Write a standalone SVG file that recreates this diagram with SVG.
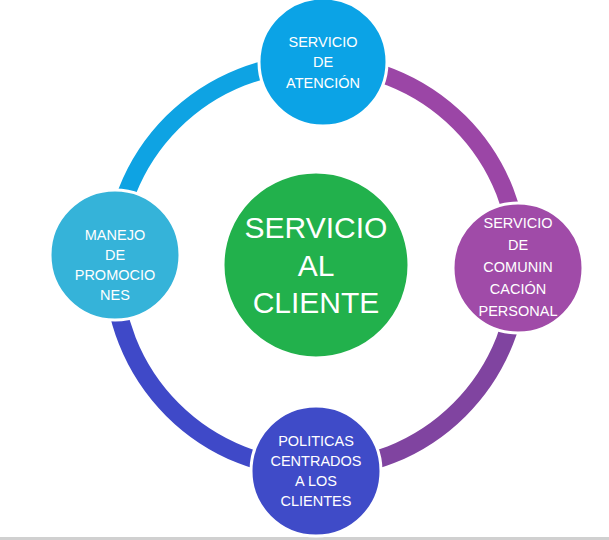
<svg xmlns="http://www.w3.org/2000/svg" width="609" height="540" viewBox="0 0 609 540">
<style>
.arc{fill:none;stroke-width:18}
.n{stroke:#fff;stroke-width:3}
.t{font-family:"Liberation Sans",Arial,sans-serif;font-size:14.5px;fill:#fff;text-anchor:middle}
.c{font-family:"Liberation Sans",Arial,sans-serif;font-size:30px;fill:#fff;text-anchor:middle}
</style>
<rect width="609" height="540" fill="#fff"/>
<line x1="0" y1="538.5" x2="609" y2="538.5" stroke="#d0d0d0" stroke-width="3"/>
<g id="connectors">
<path class="arc" stroke="#0ea3e3" d="M113 266 A203 203 0 0 1 316 63"/>
<path class="arc" stroke="#9b46a6" d="M316 63 A203 203 0 0 1 519 266"/>
<path class="arc" stroke="#8044a0" d="M519 266 A203 203 0 0 1 316 469"/>
<path class="arc" stroke="#3f49c8" d="M316 469 A203 203 0 0 1 113 266"/>
</g>
<g id="center"><circle class="n" cx="316" cy="265" r="93" fill="#22b14c"/>
<text class="c" x="316" y="238">SERVICIO</text><text class="c" x="316" y="276">AL</text><text class="c" x="316" y="313">CLIENTE</text></g>
<g id="top"><circle class="n" cx="323" cy="62" r="64" fill="#0ba3e6"/>
<text class="t" x="323" y="47">SERVICIO</text><text class="t" x="323" y="67">DE</text><text class="t" x="323" y="88">ATENCIÓN</text></g>
<g id="left"><circle class="n" cx="115" cy="255" r="65" fill="#35b3d9"/>
<text class="t" x="115" y="240">MANEJO</text><text class="t" x="115" y="260">DE</text><text class="t" x="115" y="280">PROMOCIO</text><text class="t" x="115" y="300">NES</text></g>
<g id="right"><circle class="n" cx="518" cy="268" r="65" fill="#a04ba8"/>
<text class="t" x="518" y="228">SERVICIO</text><text class="t" x="518" y="250">DE</text><text class="t" x="518" y="272">COMUNIN</text><text class="t" x="518" y="294">CACIÓN</text><text class="t" x="518" y="316">PERSONAL</text></g>
<g id="bottom"><circle class="n" cx="316" cy="471" r="65" fill="#3f4bc8"/>
<text class="t" x="316" y="446">POLITICAS</text><text class="t" x="316" y="466">CENTRADOS</text><text class="t" x="316" y="486">A LOS</text><text class="t" x="316" y="506">CLIENTES</text></g>
</svg>
